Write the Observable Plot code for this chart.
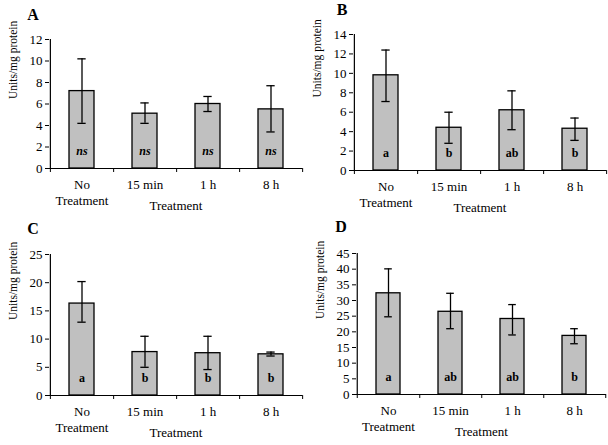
<!DOCTYPE html>
<html><head><meta charset="utf-8">
<script src="https://cdn.jsdelivr.net/npm/d3@7"></script>
<script src="https://cdn.jsdelivr.net/npm/@observablehq/plot@0.6"></script>
<style>
body{margin:0;background:#fff;}
#wrap{position:relative;width:608px;height:445px;font-family:"Liberation Serif","Times New Roman",serif;}
#wrap svg, #wrap svg text{font-family:"Liberation Serif","Times New Roman",serif !important;}
.panel{position:absolute;}
.letter{position:absolute;font-weight:bold;font-size:16px;transform:translate(-50%,-50%);}
</style></head>
<body><div id="wrap"></div>
<script>
const categories = ["No Treatment", "15 min", "1 h", "8 h"];
const tickLabels = ["No\nTreatment", "15 min", "1 h", "8 h"];
const panelNames = ["A", "B", "C", "D"];

const meanA = [7.2, 5.1, 6.0, 5.5];
const loA   = [4.2, 4.2, 5.3, 3.4];
const hiA   = [10.2, 6.1, 6.7, 7.7];
const sigA  = ["ns", "ns", "ns", "ns"];

const meanB = [9.8, 4.4, 6.2, 4.3];
const loB   = [7.1, 2.8, 4.2, 3.1];
const hiB   = [12.4, 6.0, 8.2, 5.4];
const sigB  = ["a", "b", "ab", "b"];

const meanC = [16.3, 7.7, 7.5, 7.3];
const loC   = [13.0, 5.0, 4.6, 7.0];
const hiC   = [20.2, 10.5, 10.5, 7.7];
const sigC  = ["a", "b", "b", "b"];

const meanD = [32.3, 26.4, 24.1, 18.7];
const loD   = [24.8, 21.0, 19.0, 16.2];
const hiD   = [40.1, 32.3, 28.7, 21.0];
const sigD  = ["a", "ab", "ab", "b"];

const yMax  = [12, 14, 25, 45];
const yStep = [2, 2, 5, 5];

const panels = [
  {mean:meanA, lo:loA, hi:hiA, sig:sigA, left:0, top:0, mt:39, mb:54, ml:49, lx:33, ly:15, italic:true},
  {mean:meanB, lo:loB, hi:hiB, sig:sigB, left:304, top:0, mt:34, mb:52, ml:49, lx:342, ly:10},
  {mean:meanC, lo:loC, hi:hiC, sig:sigC, left:0, top:222, mt:32, mb:49, ml:49, lx:33, ly:229},
  {mean:meanD, lo:loD, hi:hiD, sig:sigD, left:304, top:222, mt:31, mb:50, ml:52, lx:341, ly:227}
];

const wrap = document.getElementById("wrap");
const W = 304, H = 222, MR = 2;
const PI = 0.61, PO = PI / 2;
const FONT = '"Liberation Serif","Times New Roman",serif';

panels.forEach((p, k) => {
  const data = categories.map((c, i) => ({cat: c, mean: p.mean[i], lo: p.lo[i], hi: p.hi[i], sig: p.sig[i]}));
  const step = (W - p.ml - MR) / categories.length;
  const bw = step * (1 - PI);
  const capInset = bw / 2 - 4;
  const ticks = d3.range(0, yMax[k] + 1e-9, yStep[k]);
  const chart = Plot.plot({
    width: W, height: H,
    marginLeft: p.ml, marginRight: MR, marginTop: p.mt, marginBottom: p.mb,
    style: {fontFamily: FONT, fontSize: "13px", color: "#000", background: "transparent"},
    x: {domain: categories, paddingInner: PI, paddingOuter: PO, align: 0.5, axis: null},
    y: {domain: [0, yMax[k]], axis: null},
    marks: [
      Plot.barY(data, {x: "cat", y: "mean", fill: "#c0c0c0", stroke: "#000", strokeWidth: 1.3}),
      Plot.ruleX(data, {x: "cat", y1: "lo", y2: "hi", stroke: "#000", strokeWidth: 1.3}),
      Plot.tickY(data, {x: "cat", y: "lo", stroke: "#000", strokeWidth: 1.3, insetLeft: capInset, insetRight: capInset}),
      Plot.tickY(data, {x: "cat", y: "hi", stroke: "#000", strokeWidth: 1.3, insetLeft: capInset, insetRight: capInset}),
      Plot.text(data, {x: "cat", y: 0, text: "sig", dy: -17, fontWeight: "bold", fontStyle: p.italic ? "italic" : "normal", fontSize: 12, fontFamily: FONT}),
      Plot.axisY({ticks, tickSize: 4, tickPadding: 3, fontSize: 13, fontFamily: FONT, label: null}),
      Plot.ruleY([0], {stroke: "#000", strokeWidth: 1.2}),
      Plot.ruleX(categories, {x: d => d, y1: 0, y2: 0, insetBottom: -4, dx: step/2, stroke: "#000"}),
      Plot.ruleX([categories[0]], {x: d => d, y1: 0, y2: 0, insetBottom: -4, dx: -step/2, stroke: "#000"}),
      Plot.ruleX([categories[0]], {x: d => d, y1: 0, y2: yMax[k], dx: -step/2, stroke: "#000", strokeWidth: 1.2}),
      Plot.axisX({tickSize: 0, tickPadding: 9, tickFormat: d => tickLabels[categories.indexOf(d)], fontSize: 13, fontFamily: FONT, lineHeight: 1.25, label: null}),
      Plot.text(["Treatment"], {frameAnchor: "bottom", dy: 41, fontSize: 13, fontFamily: FONT}),
      Plot.text(["Units/mg protein"], {frameAnchor: "left", rotate: -90, dx: -36, dy: -5, fontSize: 11.5, fontFamily: FONT})
    ]
  });
  chart.classList.add("panel");
  chart.style.left = p.left + "px";
  chart.style.top = p.top + "px";
  wrap.appendChild(chart);
  const lt = document.createElement("div");
  lt.className = "letter";
  lt.textContent = panelNames[k];
  lt.style.left = p.lx + "px";
  lt.style.top = p.ly + "px";
  wrap.appendChild(lt);
});
</script></body></html>
